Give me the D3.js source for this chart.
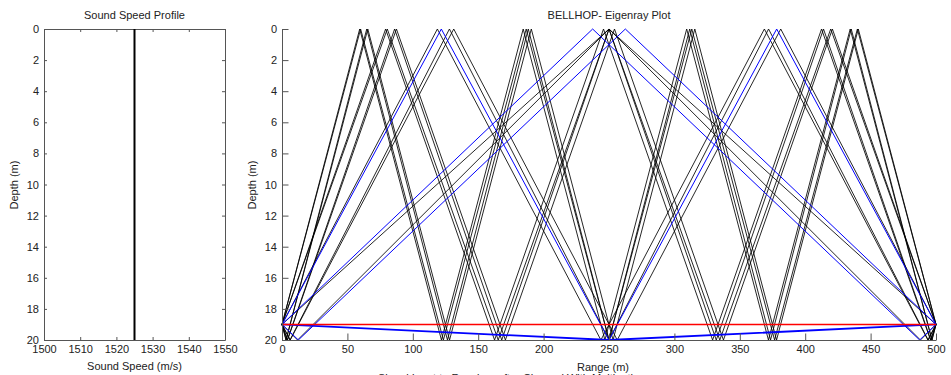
<!DOCTYPE html>
<html><head><meta charset="utf-8">
<script src="https://cdn.jsdelivr.net/npm/d3@7"></script>
<style>
html,body{margin:0;padding:0;background:#fff;overflow:hidden}
svg{display:block;font-family:"Liberation Sans",Arial,sans-serif}
</style></head><body>
<svg id="c" width="951" height="375"></svg>
<script>
// ---- Sound speed profile ----
const sspDepth = [0, 20];
const sspSpeed = [1525, 1525];
const sspSpeedTicks = [1500, 1510, 1520, 1530, 1540, 1550];
const depthTicks = [0, 2, 4, 6, 8, 10, 12, 14, 16, 18, 20];
const rangeTicks = [0, 50, 100, 150, 200, 250, 300, 350, 400, 450, 500];

// ---- Eigenrays: turning points [range (m), depth (m)] ----
const rayDirect   = [[0,19],[500,19]];
const rayBot1     = [[0,19],[250,20],[500,19]];
const raySurf1    = [[0,19],[250,0],[500,19]];
const ray40up     = [[0,19],[237.5,0],[487.5,20],[500,19]];
const ray40down   = [[0,19],[12.5,20],[262.5,0],[500,19]];
const ray42       = [[0,19],[11.9,20],[250,0],[488.1,20],[500,19]];
const ray78       = [[0,19],[121.8,0],[250,20],[378.2,0],[500,19]];
const ray80up     = [[0,19],[118.8,0],[243.8,20],[368.8,0],[493.8,20],[500,19]];
const ray80down   = [[0,19],[6.3,20],[131.3,0],[256.3,20],[381.3,0],[500,19]];
const ray82       = [[0,19],[6.1,20],[128,0],[250,20],[372,0],[494,20],[500,19]];
const ray118      = [[0,19],[80.5,0],[165.3,20],[250,0],[334.7,20],[419.5,0],[500,19]];
const ray120up    = [[0,19],[79.2,0],[162.5,20],[245.8,0],[329.2,20],[412.5,0],[495.8,20],[500,19]];
const ray120down  = [[0,19],[4.2,20],[87.5,0],[170.8,20],[254.2,0],[337.5,20],[420.8,0],[500,19]];
const ray122      = [[0,19],[4.1,20],[86.1,0],[168,20],[250,0],[332,20],[414,0],[496,20],[500,19]];
const ray158      = [[0,19],[60.1,0],[123.4,20],[186.7,0],[250,20],[313.3,0],[376.6,20],[439.9,0],[500,19]];
const ray160up    = [[0,19],[59.4,0],[121.9,20],[184.4,0],[246.9,20],[309.4,0],[371.9,20],[434.4,0],[496.9,20],[500,19]];
const ray160down  = [[0,19],[3.1,20],[65.6,0],[128.1,20],[190.6,0],[253.1,20],[315.6,0],[378.1,20],[440.6,0],[500,19]];
const ray162      = [[0,19],[3.1,20],[64.8,0],[126.5,20],[188.3,0],[250,20],[311.7,0],[373.5,20],[435.2,0],[496.9,20],[500,19]];

const blackRays = [raySurf1, ray42, ray80up, ray80down, ray82, ray118, ray120up, ray120down, ray122, ray158, ray160up, ray160down, ray162];
const blueRays  = [rayBot1, ray40up, ray40down, ray78];
const redRays   = [rayDirect];

const svg = d3.select("#c");
const FS = 11;
const axisCol = "#555";
const txtCol = "#222";
const fmt = d3.format("d");

function styleAxis(g, showLabels){
  g.selectAll(".domain").attr("stroke", axisCol);
  g.selectAll(".tick line").attr("stroke", axisCol);
  g.selectAll(".tick text").attr("fill", txtCol).attr("font-size", FS)
   .attr("font-family", '"Liberation Sans",Arial,sans-serif');
  if(!showLabels) g.selectAll(".tick text").remove();
}

// ===== Left panel =====
const xL = d3.scaleLinear().domain([1500,1550]).range([44,225]);
const yL = d3.scaleLinear().domain([0,20]).range([29,340]);
const left = svg.append("g");

left.append("g").attr("transform","translate(0,340)")
  .call(d3.axisBottom(xL).tickValues(sspSpeedTicks).tickFormat(fmt).tickSize(-3).tickSizeOuter(0).tickPadding(5))
  .call(g=>styleAxis(g,true));
left.append("g").attr("transform","translate(0,29)")
  .call(d3.axisTop(xL).tickValues(sspSpeedTicks).tickSize(-3).tickSizeOuter(0))
  .call(g=>styleAxis(g,false));
left.append("g").attr("transform","translate(44,0)")
  .call(d3.axisLeft(yL).tickValues(depthTicks).tickFormat(fmt).tickSize(-3).tickSizeOuter(0).tickPadding(5))
  .call(g=>styleAxis(g,true));
left.append("g").attr("transform","translate(225,0)")
  .call(d3.axisRight(yL).tickValues(depthTicks).tickSize(-3).tickSizeOuter(0))
  .call(g=>styleAxis(g,false));

left.append("path")
  .datum(sspDepth.map((d,i)=>[sspSpeed[i], d]))
  .attr("fill","none").attr("stroke","#000").attr("stroke-width",2)
  .attr("d", d3.line().x(d=>xL(d[0])).y(d=>yL(d[1])));

left.append("text").attr("x",134.5).attr("y",19).attr("text-anchor","middle")
  .attr("font-size",FS).attr("fill",txtCol).text("Sound Speed Profile");
left.append("text").attr("x",134.5).attr("y",370).attr("text-anchor","middle")
  .attr("font-size",FS).attr("fill",txtCol).text("Sound Speed (m/s)");
left.append("text").attr("transform","translate(18,185) rotate(-90)").attr("text-anchor","middle")
  .attr("font-size",FS).attr("fill",txtCol).text("Depth (m)");

// ===== Right panel =====
const xR = d3.scaleLinear().domain([0,500]).range([282,936]);
const yR = d3.scaleLinear().domain([0,20]).range([29,340]);
const right = svg.append("g");
const line = d3.line().x(d=>xR(d[0])).y(d=>yR(d[1]));

right.selectAll("path.k").data(blackRays).enter().append("path").attr("class","k")
  .attr("d", line).attr("fill","none").attr("stroke","#000").attr("stroke-width",1).attr("stroke-opacity",0.85);
right.selectAll("path.b").data(blueRays).enter().append("path").attr("class","b")
  .attr("d", line).attr("fill","none").attr("stroke","#0000ff").attr("stroke-width",(d,i)=>i===0?1.8:1);
right.selectAll("path.r").data(redRays).enter().append("path").attr("class","r")
  .attr("d", line).attr("fill","none").attr("stroke","#ff0000").attr("stroke-width",1.5);

right.append("g").attr("transform","translate(0,340)")
  .call(d3.axisBottom(xR).tickValues(rangeTicks).tickFormat(fmt).tickSize(-6.5).tickSizeOuter(0).tickPadding(5))
  .call(g=>styleAxis(g,true));
right.append("g").attr("transform","translate(282,0)")
  .call(d3.axisLeft(yR).tickValues(depthTicks).tickFormat(fmt).tickSize(-6.5).tickSizeOuter(0).tickPadding(5))
  .call(g=>styleAxis(g,true));

right.append("text").attr("x",609).attr("y",19).attr("text-anchor","middle")
  .attr("font-size",FS).attr("fill",txtCol).text("BELLHOP- Eigenray Plot");
right.append("text").attr("x",603).attr("y",371).attr("text-anchor","middle")
  .attr("font-size",FS).attr("fill",txtCol).text("Range (m)");
right.append("text").attr("transform","translate(256,185) rotate(-90)").attr("text-anchor","middle")
  .attr("font-size",FS).attr("fill",txtCol).text("Depth (m)");

// partially visible caption below the figure (clipped in the reference too)
svg.append("text").attr("x",378).attr("y",382).attr("font-size",FS).attr("fill",txtCol)
  .text("Signal Input to Receiver after Channel With Multipath");
</script>
</body></html>
